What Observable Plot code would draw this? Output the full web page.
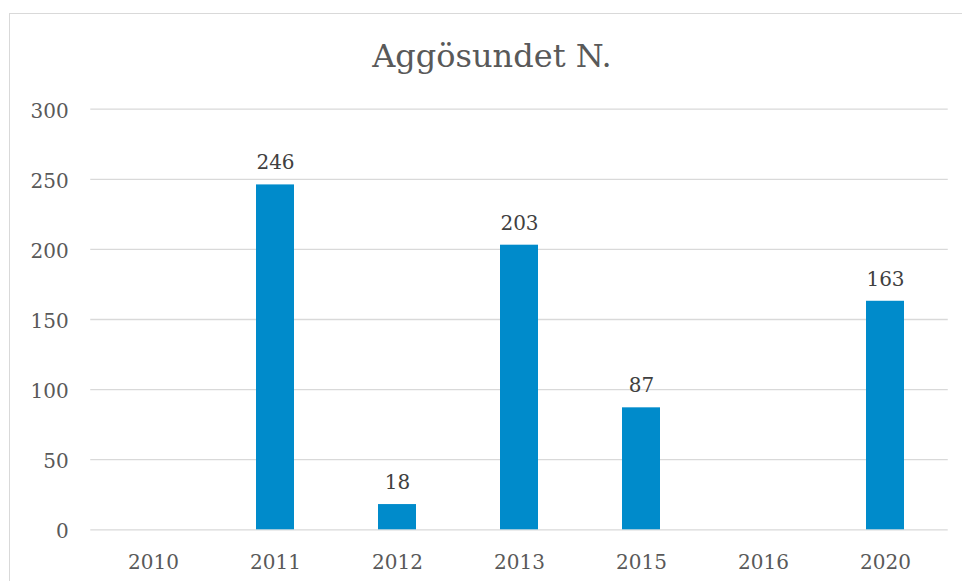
<!DOCTYPE html>
<html>
<head>
<meta charset="utf-8">
<script src="https://cdn.jsdelivr.net/npm/d3@7"></script>
<script src="https://cdn.jsdelivr.net/npm/@observablehq/plot@0.6"></script>
<style>
  html, body { margin: 0; padding: 0; background: #fff; overflow: hidden; }
  #wrap { position: relative; width: 962px; height: 581px; }
  #frame { position: absolute; left: 9px; top: 12.5px; width: 980px; height: 620px;
           border: 1.3px solid #d9d9d9; box-sizing: border-box; }
  #title { position: absolute; left: 0; top: 40px; width: 984px; text-align: center;
           font-family: "DejaVu Serif", serif; font-size: 32px; line-height: 1; color: #595959; }
  #chart { position: absolute; left: 0; top: 0; }
</style>
</head>
<body>
<div id="wrap">
  <div id="frame"></div>
  <div id="title">Aggösundet N.</div>
  <div id="chart"></div>
</div>
<script>
const years = ["2010", "2011", "2012", "2013", "2015", "2016", "2020"];
const counts = [0, 246, 18, 203, 87, 0, 163];
const yTicks = [0, 50, 100, 150, 200, 250, 300];

const data = years.map((y, i) => ({year: y, n: counts[i]}));
const labelled = data.filter(d => d.n > 0);

const chart = Plot.plot({
  width: 962,
  height: 581,
  marginLeft: 90.25,
  marginRight: 14.25,
  marginTop: 108.7,
  marginBottom: 51.7,
  style: {fontFamily: "DejaVu Serif, serif", fontSize: "20px", color: "#595959", background: "transparent"},
  x: {type: "band", domain: years, paddingInner: 0.686, paddingOuter: 0.343, label: null},
  y: {domain: [0, 300], ticks: yTicks, label: null},
  marks: [
    Plot.ruleY(yTicks, {stroke: "#d9d9d9", strokeWidth: 1.3}),
    Plot.barY(data, {x: "year", y: "n", fill: "#008bcb"}),
    Plot.text(labelled, {x: "year", y: "n", text: d => String(d.n), dy: -22, fill: "#404040", fontSize: 20}),
    Plot.axisY({ticks: yTicks, tickSize: 0, tickPadding: 22, fontSize: 20, dy: 2, label: null}),
    Plot.axisX({tickSize: 0, tickPadding: 24.5, fontSize: 20, label: null})
  ]
});
document.getElementById("chart").appendChild(chart);
</script>
</body>
</html>
